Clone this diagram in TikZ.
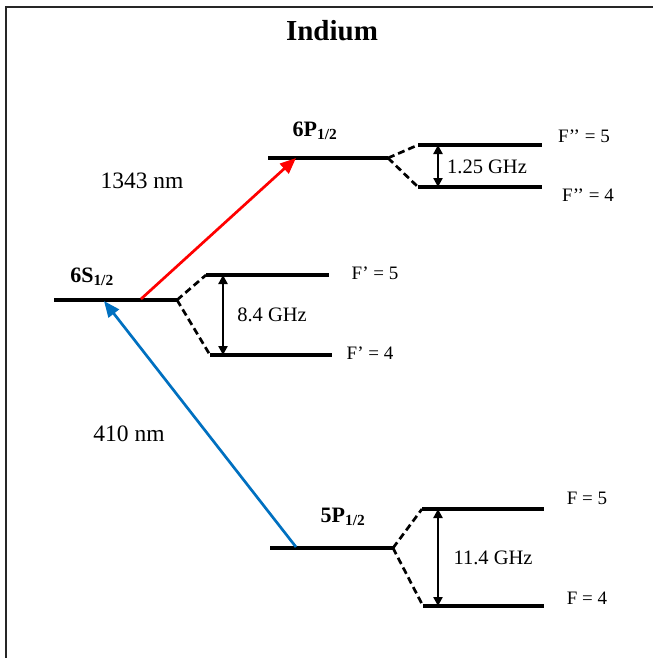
\documentclass[tikz,border=0pt]{standalone}
\usepackage{fontspec}
\setmainfont{Liberation Serif}
\usetikzlibrary{arrows.meta}
\definecolor{laserred}{RGB}{255,0,0}
\definecolor{laserblue}{RGB}{0,112,192}
\tikzset{
    level/.style={line width=3.2pt},
    split/.style={line width=2.7pt, dash pattern=on 7pt off 4pt},
    gap/.style={line width=2.4pt, {Triangle[length=9pt,width=9pt]}-{Triangle[length=9pt,width=9pt]}},
    laser/.style={line width=2.7pt, -{Triangle[length=16pt,width=13pt]}},
    term/.style={font=\fontsize{22}{26}\selectfont\bfseries},
    hflabel/.style={font=\fontsize{19}{22}\selectfont},
    freq/.style={font=\fontsize{20.5}{24}\selectfont},
    wave/.style={font=\fontsize{23.5}{28}\selectfont},
}

\begin{document}
\begin{tikzpicture}[x=1pt, y=-1pt]
    \useasboundingbox (0,0) rectangle (653,658);
    \draw[line width=1.5pt, black!85] (6,658) -- (6,7) -- (653,7);

    \node[font=\fontsize{29}{34}\selectfont\bfseries] (title) at (332,31) {Indium};

    % 6S_1/2 and its hyperfine pair
    \coordinate (s-l)  at (54,300);
    \coordinate (s-r)  at (177,300);
    \coordinate (s5-l) at (206,275);
    \coordinate (s5-r) at (329,275);
    \coordinate (s4-l) at (210,355);
    \coordinate (s4-r) at (332,355);
    \coordinate (s5-a) at (223,275);
    \coordinate (s4-a) at (223,355);

    % 6P_1/2
    \coordinate (p6-l)  at (268,158);
    \coordinate (p6-r)  at (388,158);
    \coordinate (p65-l) at (418,145);
    \coordinate (p65-r) at (542,145);
    \coordinate (p64-l) at (418,187);
    \coordinate (p64-r) at (542,187);
    \coordinate (p65-a) at (438,145);
    \coordinate (p64-a) at (438,187);

    % 5P_1/2
    \coordinate (p5-l)  at (270,548);
    \coordinate (p5-r)  at (393,548);
    \coordinate (p55-l) at (422,509);
    \coordinate (p55-r) at (544,509);
    \coordinate (p54-l) at (423,606);
    \coordinate (p54-r) at (544,606);
    \coordinate (p55-a) at (438,509);
    \coordinate (p54-a) at (438,606);

    % laser end points
    \coordinate (red-from)  at (141,299);
    \coordinate (red-to)    at (296,158);
    \coordinate (blue-from) at (296,547);
    \coordinate (blue-to)   at (104,301);

    \draw[level] (s-l) -- (s-r);
    \draw[level] (s5-l) -- (s5-r);
    \draw[level] (s4-l) -- (s4-r);
    \draw[split] (s-r) -- (s5-l);
    \draw[split] (s-r) -- (s4-l);
    \draw[gap] (s5-a) -- (s4-a);

    \draw[level] (p6-l) -- (p6-r);
    \draw[level] (p65-l) -- (p65-r);
    \draw[level] (p64-l) -- (p64-r);
    \draw[split] (p6-r) -- (p65-l);
    \draw[split] (p6-r) -- (p64-l);
    \draw[gap] (p65-a) -- (p64-a);

    \draw[level] (p5-l) -- (p5-r);
    \draw[level] (p55-l) -- (p55-r);
    \draw[level] (p54-l) -- (p54-r);
    \draw[split] (p5-r) -- (p55-l);
    \draw[split] (p5-r) -- (p54-l);
    \draw[gap] (p55-a) -- (p54-a);

    \draw[laser, laserred]  (red-from) -- (red-to);
    \draw[laser, laserblue] (blue-from) -- (blue-to);

    \node[term] (s-name)  at (92,277)  {6S\textsubscript{1/2}};
    \node[term] (p6-name) at (315,131) {6P\textsubscript{1/2}};
    \node[term] (p5-name) at (343,517) {5P\textsubscript{1/2}};

    \node[wave] (red-name)  at (142,181) {1343 nm};
    \node[wave] (blue-name) at (129,434) {410 nm};

    \node[freq] (s-gap)  at (272,315) {8.4 GHz};
    \node[freq] (p6-gap) at (487,167) {1.25 GHz};
    \node[freq] (p5-gap) at (493,558) {11.4 GHz};

    \node[hflabel] (s5-name)  at (375,273) {F’ = 5};
    \node[hflabel] (s4-name)  at (370,353) {F’ = 4};
    \node[hflabel] (p65-name) at (584,136) {F’’ = 5};
    \node[hflabel] (p64-name) at (588,195) {F’’ = 4};
    \node[hflabel] (p55-name) at (587,498) {F = 5};
    \node[hflabel] (p54-name) at (587,598) {F = 4};
\end{tikzpicture}
\end{document}
